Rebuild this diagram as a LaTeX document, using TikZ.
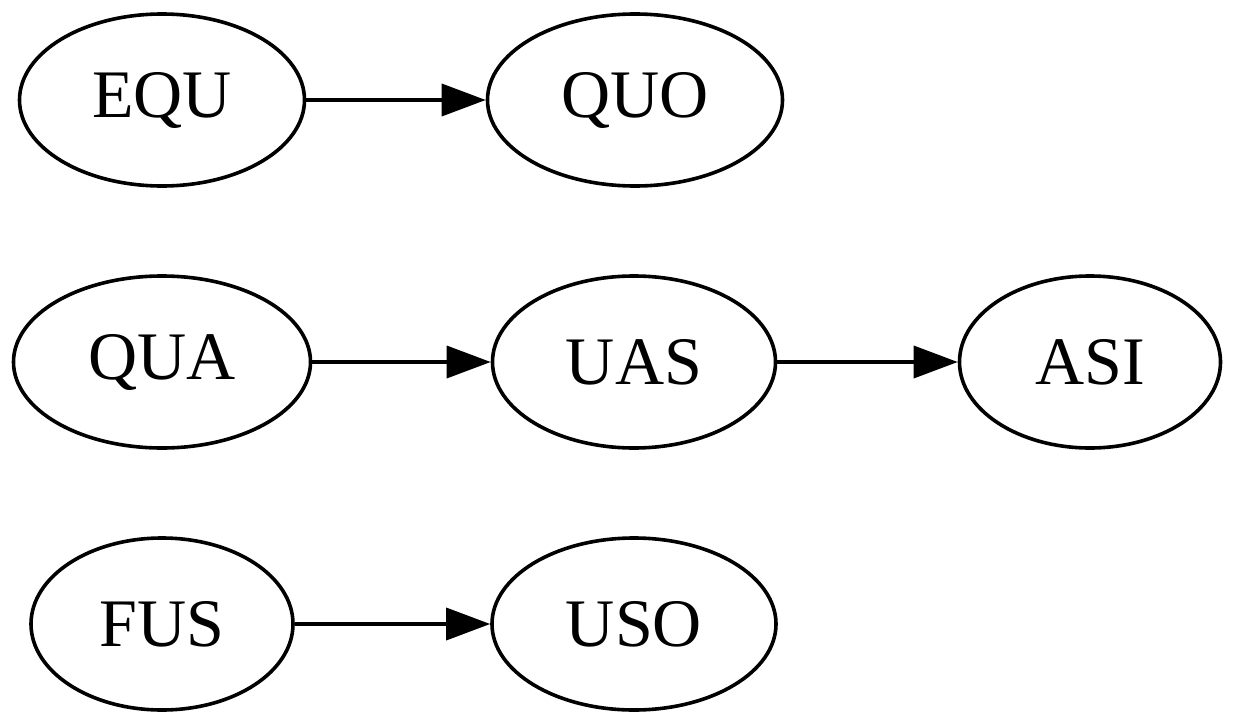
\documentclass[tikz,border=0pt]{standalone}
\usepackage{fontspec}
\setmainfont{Liberation Serif}
\usetikzlibrary{shapes.geometric,arrows.meta}
\begin{document}
\begin{tikzpicture}[x=1pt,y=-1pt,
  st/.style={draw,ellipse,line width=3.6pt,inner sep=0pt,minimum height=172pt,font=\fontsize{68}{68}\selectfont},
  edge/.style={line width=3.6pt,-{Triangle[length=44pt,width=32pt]}}]
\useasboundingbox (0,0) rectangle (1236,712);
\node[st,minimum width=285pt] (EQU) at (162,100) {EQU};
\node[st,minimum width=295pt] (QUO) at (635,100) {QUO};
\node[st,minimum width=297pt] (QUA) at (162,362) {QUA};
\node[st,minimum width=283pt] (UAS) at (634,362) {UAS};
\node[st,minimum width=261pt] (ASI) at (1090,362) {ASI};
\node[st,minimum width=262pt] (FUS) at (162,624) {FUS};
\node[st,minimum width=284pt] (USO) at (634,624) {USO};
\draw[edge] (EQU) -- (QUO);
\draw[edge] (QUA) -- (UAS);
\draw[edge] (UAS) -- (ASI);
\draw[edge] (FUS) -- (USO);
\end{tikzpicture}
\end{document}
